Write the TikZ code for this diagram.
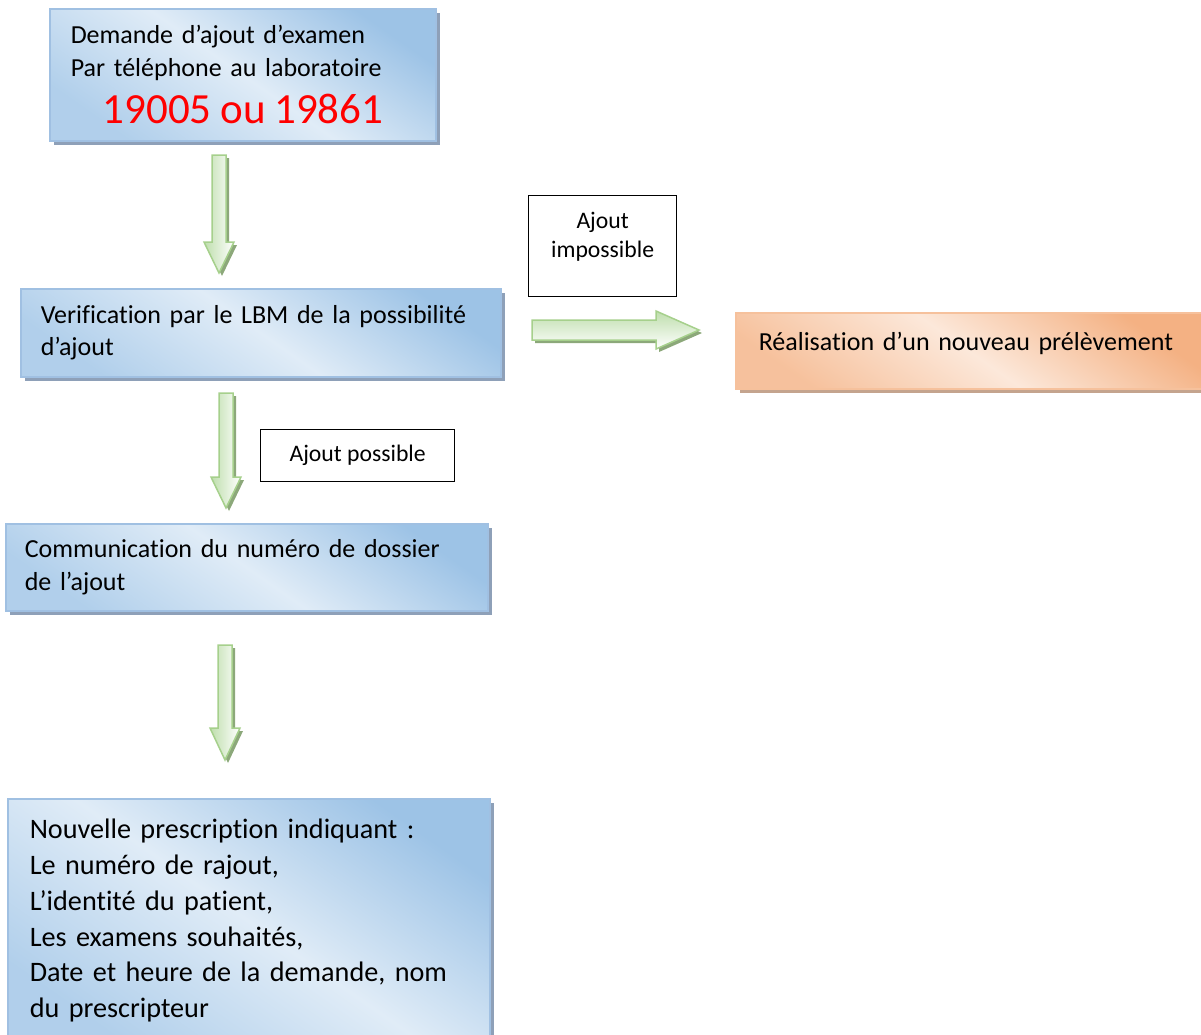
\documentclass[tikz,border=0pt]{standalone}
\usepackage{fontspec}
\setmainfont{Carlito}[Ligatures=NoCommon]
\usetikzlibrary{shadows}
\definecolor{boxdark}{RGB}{157,195,230}
\definecolor{boxlight}{RGB}{224,236,247}
\definecolor{boxline}{RGB}{160,192,226}
\definecolor{boxshadow}{RGB}{142,160,184}
\definecolor{orgdark}{RGB}{244,177,131}
\definecolor{orglight}{RGB}{252,232,218}
\definecolor{orgshadow}{RGB}{196,164,142}
\definecolor{grnfill}{RGB}{190,222,172}
\definecolor{grnline}{RGB}{166,208,140}
\definecolor{grnshadow}{RGB}{140,168,122}
\newcommand\basefont{\fontsize{26}{32.5}\selectfont}
\newcommand\smallfont{\fontsize{23.7}{29}\selectfont}
\newcommand\bigfont{\fontsize{28.2}{35.8}\selectfont}
% vertical block arrow: x centre, top, head start, tip
\newcommand\vgarrow[4]{%
  \fill[grnshadow] (#1-7+3,#2+3) -- (#1+7+3,#2+3) -- (#1+7+3,#3+3) -- (#1+15+3,#3+3) -- (#1+3,#4+3) -- (#1-15+3,#3+3) -- (#1-7+3,#3+3) -- cycle;
  \shade[left color=grnfill,right color=white,draw=grnline,line width=1.5pt] (#1-7,#2) -- (#1+7,#2) -- (#1+7,#3) -- (#1+15,#3) -- (#1,#4) -- (#1-15,#3) -- (#1-7,#3) -- cycle;}
\begin{document}
\begin{tikzpicture}[x=1pt,y=-1pt,
  bluebox/.style={draw=boxline,line width=1.5pt,top color=boxdark,bottom color=boxdark!70!boxlight,middle color=boxlight,shading angle=-35,
    drop shadow={shadow xshift=4pt,shadow yshift=-4pt,fill=boxshadow,opacity=1},anchor=north west,align=left,font=\basefont},
  orgbox/.style={draw=orgdark!80,line width=1.5pt,top color=orgdark,bottom color=orgdark!70!orglight,middle color=orglight,shading angle=-35,
    drop shadow={shadow xshift=4pt,shadow yshift=-4pt,fill=orgshadow,opacity=1},anchor=north west,align=left,font=\basefont},
  tagbox/.style={draw=black,line width=1.3pt,fill=white,anchor=north west,align=center,font=\smallfont,inner sep=0pt}]
\useasboundingbox (0,0) rectangle (1201,1034);

\node[bluebox,inner xsep=21pt,text width=344pt,minimum height=132pt] (demande) at (49,8)
  {Demande d’ajout d’examen\\Par téléphone au laboratoire\\[13pt]
   \hspace*{32pt}{\color{red}\fontsize{43}{48}\selectfont 19005 ou 19861}};
\node[bluebox,inner xsep=20pt,text width=440pt,minimum height=88pt] (verif) at (20,288)
  {Verification par le LBM de la possibilité\\d’ajout};
\node[bluebox,inner xsep=19pt,text width=444pt,minimum height=87pt] (comm) at (5,523)
  {Communication du numéro de dossier\\de l’ajout};
\node[bluebox,inner xsep=22pt,text width=438pt,minimum height=244pt,font=\bigfont] (presc) at (7,798)
  {Nouvelle prescription indiquant :\\Le numéro de rajout,\\L’identité du patient,\\Les examens souhaités,\\Date et heure de la demande, nom\\du prescripteur};
\node[orgbox,inner xsep=23pt,text width=420pt,minimum height=76pt,text height=16pt,text depth=16pt] (prelev) at (735,312)
  {Réalisation d’un nouveau prélèvement};

\node[tagbox,minimum width=148pt,minimum height=101pt,text depth=23pt] (impossible) at (528,195) {Ajout\\impossible};
\node[tagbox,minimum width=194pt,minimum height=52pt] (possible) at (260,429) {Ajout possible};

% arrows
\vgarrow{219}{155}{242}{273}
\vgarrow{226}{393}{477}{508}
\vgarrow{225}{645}{728}{760}
\fill[grnshadow] (535,323) -- (659,323) -- (659,314) -- (702,333) -- (659,352) -- (659,343) -- (535,343) -- cycle;
\shade[top color=grnfill,bottom color=white,draw=grnline,line width=1.5pt] (532,320) -- (656,320) -- (656,311) -- (699,330) -- (656,349) -- (656,340) -- (532,340) -- cycle;
\end{tikzpicture}
\end{document}
